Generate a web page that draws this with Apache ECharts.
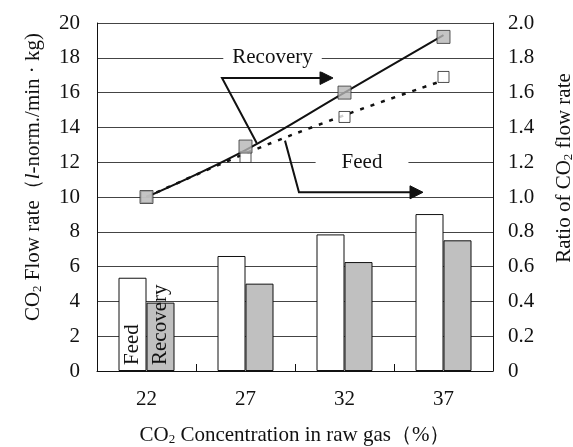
<!DOCTYPE html>
<html>
<head>
<meta charset="utf-8">
<script src="https://cdn.jsdelivr.net/npm/echarts@6/dist/echarts.min.js"></script>
<style>
html,body{margin:0;padding:0;background:#fff;}
#c{width:573px;height:447px;}
</style>
</head>
<body>
<div id="c"></div>
<script>
const categories = ['22', '27', '32', '37'];
const feedFlow = [5.36, 6.61, 7.85, 9.02];
const recoveryFlow = [3.93, 5.02, 6.26, 7.51];
const recoveryRatio = [1.00, 1.29, 1.60, 1.92];
const feedRatio = [1.00, 1.23, 1.46, 1.69];
const recoveryFit = [1.00, 1.27, 1.60, 1.93];
const feedFit = [1.00, 1.25, 1.47, 1.67];
const flowAxis = {min: 0, max: 20, interval: 2};
const ratioAxis = {min: 0, max: 2, interval: 0.2};

// annotation anchors in data space (x: 0..4 across categories, y: ratio axis)
const recoveryNote = {label: [1.773, 1.799], path: [[1.613, 1.310], [1.263, 1.684], [2.384, 1.684]]};
const feedNote = {label: [2.677, 1.201], path: [[1.899, 1.324], [2.040, 1.027], [3.293, 1.027]]};

const FONT = 'Liberation Serif';
const FS = 21;
const TXT = '#111';
const subStyle = {fontSize: 13, fontFamily: FONT, color: TXT, padding: [9, 0, 0, 0]};
const normStyle = {fontSize: FS, fontFamily: FONT, color: TXT};
const itStyle = {fontSize: FS, fontFamily: FONT, color: TXT, fontStyle: 'italic'};

const chart = echarts.init(document.getElementById('c'));

const option = {
  animation: false,
  backgroundColor: '#fff',
  grid: {left: 97, right: 80, top: 23, bottom: 76, containLabel: false, outerBoundsMode: 'none'},
  xAxis: [{
    type: 'category',
    data: categories,
    boundaryGap: true,
    axisLine: {lineStyle: {color: '#111', width: 1}},
    axisTick: {show: true, inside: true, length: 7, lineStyle: {color: '#111'}},
    axisLabel: {fontFamily: FONT, fontSize: FS, color: TXT, margin: 18},
    name: '{n|CO}{s|2}{n| Concentration in raw gas（%）}',
    nameLocation: 'middle',
    nameGap: 53,
    nameTextStyle: {rich: {n: normStyle, s: subStyle}}
  }, {
    type: 'value', show: false, min: 0, max: 4
  }],
  yAxis: [{
    type: 'value',
    min: flowAxis.min, max: flowAxis.max, interval: flowAxis.interval,
    axisLine: {show: true, lineStyle: {color: '#111'}},
    axisTick: {show: false},
    splitLine: {show: true, lineStyle: {color: '#444', width: 1}},
    axisLabel: {fontFamily: FONT, fontSize: FS, color: TXT, margin: 17},
    name: '{n|CO}{s|2}{n| Flow rate（}{i|l}{n|-norm./min · kg)}',
    nameLocation: 'middle',
    nameRotate: 90,
    nameGap: 53,
    nameTextStyle: {padding: [0, 0, 0, 40], rich: {n: normStyle, s: subStyle, i: itStyle}}
  }, {
    type: 'value',
    position: 'right',
    min: ratioAxis.min, max: ratioAxis.max, interval: ratioAxis.interval,
    axisLine: {show: true, lineStyle: {color: '#111'}},
    axisTick: {show: false},
    splitLine: {show: false},
    axisLabel: {fontFamily: FONT, fontSize: FS, color: TXT, margin: 15,
      formatter: v => v === 0 ? '0' : v.toFixed(1)},
    name: '{n|Ratio of CO}{s|2}{n| flow rate}',
    nameLocation: 'middle',
    nameRotate: 90,
    nameGap: 60,
    nameTextStyle: {padding: [0, 0, 0, 58], rich: {n: normStyle, s: subStyle}}
  }],
  series: [{
    name: 'Feed',
    type: 'bar',
    yAxisIndex: 0,
    barWidth: 28,
    barGap: '0%',
    itemStyle: {color: '#fff', borderColor: '#111', borderWidth: 1},
    data: feedFlow.map((v, i) => i === 0 ? {value: v, label: {
      show: true, formatter: 'Feed', position: 'insideBottom', rotate: 90,
      align: 'left', verticalAlign: 'middle', distance: 6,
      fontFamily: FONT, fontSize: FS, color: TXT}} : v)
  }, {
    name: 'Recovery',
    type: 'bar',
    yAxisIndex: 0,
    barWidth: 28,
    itemStyle: {color: '#c0c0c0', borderColor: '#111', borderWidth: 1},
    data: recoveryFlow.map((v, i) => i === 0 ? {value: v, label: {
      show: true, formatter: 'Recovery', position: 'insideBottom', rotate: 90,
      align: 'left', verticalAlign: 'middle', distance: 6,
      fontFamily: FONT, fontSize: FS, color: TXT}} : v)
  }, {
    name: 'Recovery fit',
    type: 'line',
    yAxisIndex: 1,
    smooth: 0.4,
    symbol: 'none',
    lineStyle: {color: '#111', width: 2},
    data: recoveryFit,
    z: 5
  }, {
    name: 'Feed fit',
    type: 'line',
    yAxisIndex: 1,
    smooth: 0.4,
    symbol: 'none',
    lineStyle: {color: '#111', width: 2.5, type: [4, 7]},
    data: feedFit,
    z: 5
  }, {
    name: 'Feed ratio',
    type: 'scatter',
    yAxisIndex: 1,
    symbol: 'rect',
    symbolSize: 11,
    itemStyle: {color: '#fff', borderColor: '#222', borderWidth: 1},
    data: feedRatio,
    z: 6
  }, {
    name: 'Recovery ratio',
    type: 'scatter',
    yAxisIndex: 1,
    symbol: 'rect',
    symbolSize: 13,
    itemStyle: {color: '#b5b5b5', borderColor: '#333', borderWidth: 1},
    data: recoveryRatio,
    z: 7
  }]
};
chart.setOption(option);

function px(p) {
  return chart.convertToPixel({xAxisIndex: 1, yAxisIndex: 1}, p);
}
function arrow(note, text, padH) {
  const pts = note.path.map(px);
  const tip = pts[pts.length - 1];
  const prev = pts[pts.length - 2];
  const ang = Math.atan2(tip[1] - prev[1], tip[0] - prev[0]);
  const L = 13, W = 6.5;
  const base = [tip[0] - L * Math.cos(ang), tip[1] - L * Math.sin(ang)];
  const linePts = pts.slice(0, -1).concat([base]);
  const head = [
    tip,
    [base[0] + W * Math.sin(ang), base[1] - W * Math.cos(ang)],
    [base[0] - W * Math.sin(ang), base[1] + W * Math.cos(ang)]
  ];
  const lp = px(note.label);
  return [{
    type: 'polyline', z: 20, shape: {points: linePts},
    style: {stroke: '#111', lineWidth: 2, fill: null}
  }, {
    type: 'polygon', z: 20, shape: {points: head},
    style: {fill: '#111', stroke: '#111', lineWidth: 1}
  }, {
    type: 'text', z: 20, x: lp[0], y: lp[1],
    style: {text: text, fontFamily: FONT, fontSize: FS, fill: TXT,
      align: 'center', verticalAlign: 'middle',
      backgroundColor: '#fff', padding: [3, padH]}
  }];
}
chart.setOption({graphic: arrow(recoveryNote, 'Recovery', 9).concat(arrow(feedNote, 'Feed', 26))});
</script>
</body>
</html>
